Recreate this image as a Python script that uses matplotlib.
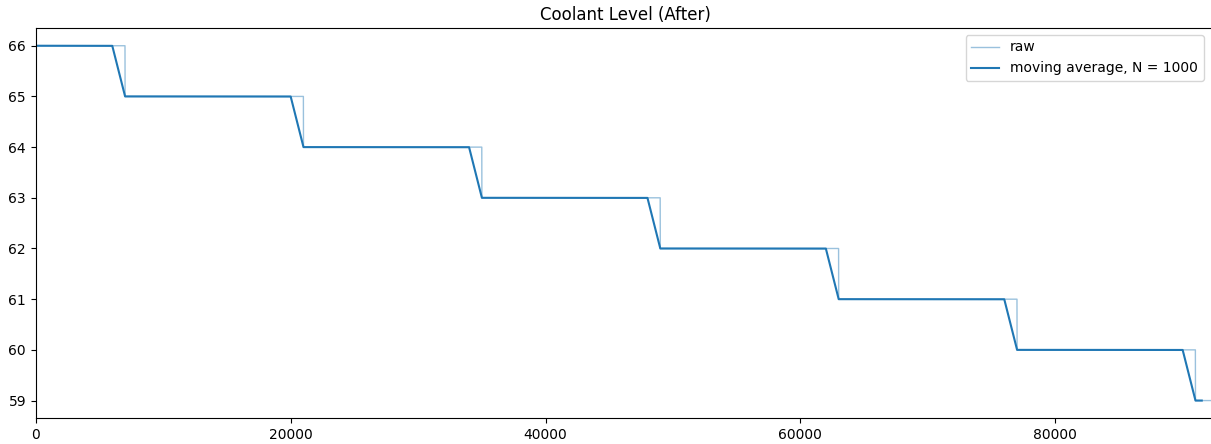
import numpy as np
import matplotlib.pyplot as plt

# step levels of the coolant sensor and the sample index where each new level starts
levels = [66, 65, 64, 63, 62, 61, 60, 59]
change_points = [0, 7000, 21000, 35000, 49000, 63000, 77000, 91000]
n_samples = 92500
N = 1000

seg_lengths = np.diff(change_points + [n_samples])
raw = np.repeat(levels, seg_lengths).astype(float)
moving_avg = np.convolve(raw, np.ones(N) / N, mode='valid')

fig = plt.figure(figsize=(12.11, 4.44), dpi=100)
ax = fig.add_axes([35.8 / 1211, 25.7 / 444, 1178.7 / 1211, 390.3 / 444])

ax.plot(raw, color='tab:blue', alpha=0.45, linewidth=1, label='raw')
ax.plot(moving_avg, color='tab:blue', linewidth=1.5, label=f'moving average, N = {N}')

ax.set_xlim(0, n_samples)
ax.set_title('Coolant Level (After)')
ax.legend(loc='upper right', bbox_to_anchor=(0.9966, 1.0))

fig.savefig('out.png', dpi=100)
